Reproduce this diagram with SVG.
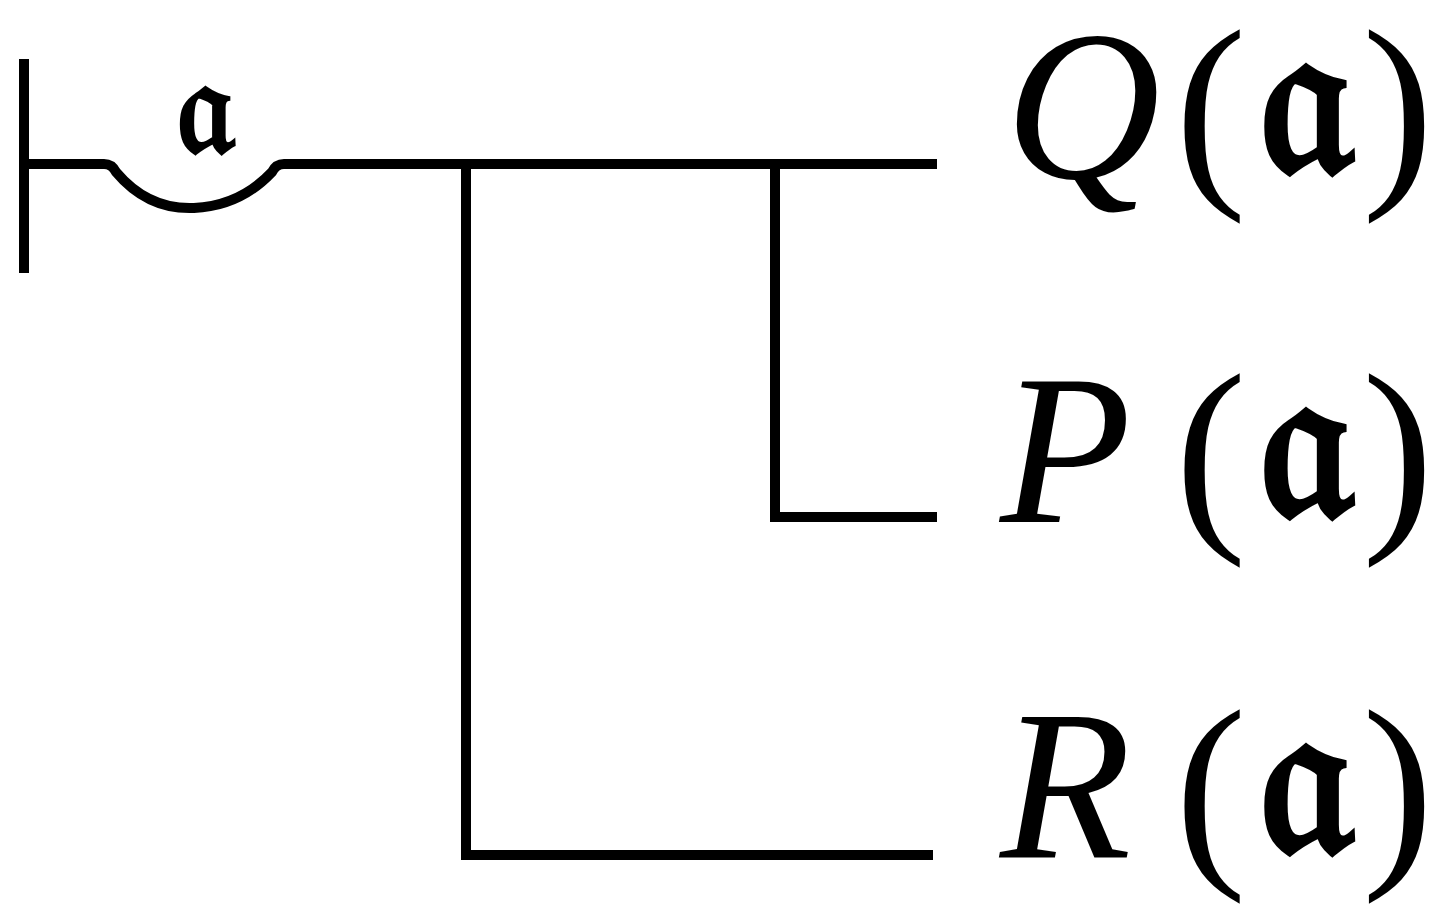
<svg xmlns="http://www.w3.org/2000/svg" width="1430" height="915" viewBox="0 0 1430 915">
<style>
.ln{fill:none;stroke:#000;stroke-width:10;stroke-linecap:butt;stroke-linejoin:miter}
.v{font-family:"Liberation Serif","Times New Roman",serif;font-style:italic;font-size:215px;fill:#000}
.p{font-family:"Liberation Serif","Times New Roman",serif;font-size:215px;fill:#000}
.fr{font-family:"DejaVu Serif","DejaVu Sans",serif;font-size:220px;font-weight:bold;fill:#000}
.sm{font-family:"DejaVu Serif","DejaVu Sans",serif;font-size:135px;font-weight:bold;fill:#000}
</style>
<rect width="1430" height="915" fill="#fff"/>
<g id="connectors">
<path class="ln" d="M24,59 V273"/>
<path class="ln" d="M24,164 H104 Q112,164 116,172 Q148,210 194,208 Q240,206 272,172 Q276,164 284,164 H937"/>
<path class="ln" d="M466,159 V855 H933"/>
<path class="ln" d="M775,164 V517 H937"/>
</g>
<g id="quantifier">
<text class="sm" x="205" y="152" text-anchor="middle">𝔞</text>
</g>
<g id="node-Q">
<text class="v" x="1005" y="178">Q</text>
<text class="p" x="1175" y="178">(</text>
<text class="fr" x="1306" y="172" text-anchor="middle">𝔞</text>
<text class="p" x="1362" y="178">)</text>
</g>
<g id="node-P">
<text class="v" x="1000" y="522">P</text>
<text class="p" x="1175" y="522">(</text>
<text class="fr" x="1306" y="516" text-anchor="middle">𝔞</text>
<text class="p" x="1362" y="522">)</text>
</g>
<g id="node-R">
<text class="v" x="1000" y="858">R</text>
<text class="p" x="1175" y="858">(</text>
<text class="fr" x="1306" y="852" text-anchor="middle">𝔞</text>
<text class="p" x="1362" y="858">)</text>
</g>
</svg>
